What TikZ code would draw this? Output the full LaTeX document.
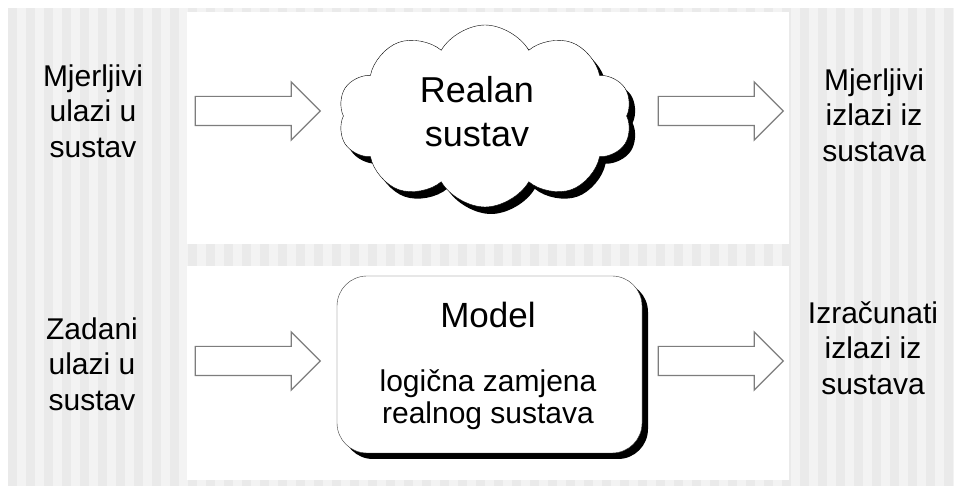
\documentclass[tikz,border=0pt]{standalone}
\usepackage{fontspec}
\setmainfont{Liberation Sans}
\usetikzlibrary{positioning,shapes,shapes.arrows,shapes.symbols,shadows}
\definecolor{stripelight}{RGB}{243,243,243}
\definecolor{stripedark}{RGB}{234,234,234}
\definecolor{arrowgray}{RGB}{125,125,125}
\tikzstyle{sidetext} = [align=center, font=\fontsize{30}{35.5}\selectfont]
\tikzstyle{panel} = [fill=white]
\tikzstyle{realsys} = [cloud, cloud puffs=10, cloud puff arc=120, draw=black, thin, fill=white,
    minimum width=294pt, minimum height=182pt,
    drop shadow={shadow xshift=6pt, shadow yshift=-7pt, fill=black, opacity=1}]
\tikzstyle{modelbox} = [draw=black!75, thin, rounded corners=30pt, fill=white,
    minimum width=305pt, minimum height=177pt,
    drop shadow={shadow xshift=6pt, shadow yshift=-6pt, fill=black, opacity=1}]
\tikzstyle{blockarrow} = [single arrow, draw=arrowgray, fill=white, line width=1.2pt,
    inner xsep=0pt, inner ysep=14pt, minimum height=125pt, minimum width=57pt,
    single arrow head extend=14.5pt, single arrow tip angle=90]

\begin{document}
\begin{tikzpicture}[x=1pt, y=-1pt]
      \useasboundingbox (0,0) rectangle (954,486);
      \fill[white] (0,0) rectangle (954,486);

      % Background
      \fill[stripelight] (8,8) rectangle (954,486);
      \foreach \i in {0,...,52}
        \fill[stripedark] ({8+18*\i},8) rectangle +(9,478);
      \fill[panel] (187,12) rectangle (789,244);
      \fill[panel] (187,266) rectangle (789,480);

      % Real system
      \node[sidetext] (in_real) at (93,111) {Mjerljivi\\ulazi u\\sustav};
      \node[realsys] (real) at (485,116) {};
      \node[align=center, font=\fontsize{36}{44}\selectfont] (real_text) at (477,112) {Realan\\sustav};
      \node[sidetext] (out_real) at (874,115) {Mjerljivi\\izlazi iz\\sustava};
      \node[blockarrow] (arr_in_real) at (250.5,111) {};
      \node[blockarrow] (arr_out_real) at (713.5,111) {};

      % Model
      \node[sidetext] (in_model) at (92,364) {Zadani\\ulazi u\\sustav};
      \node[modelbox] (model) at (489.5,364.5) {};
      \node[font=\fontsize{35}{40}\selectfont, anchor=base] (model_title) at (488,328) {Model};
      \node[align=center, font=\fontsize{30}{32}\selectfont] (model_text) at (488,400) {logična zamjena\\realnog sustava};
      \node[sidetext] (out_model) at (873,348) {Izračunati\\izlazi iz\\sustava};
      \node[blockarrow] (arr_in_model) at (250.5,361) {};
      \node[blockarrow] (arr_out_model) at (713.5,361) {};

    \end{tikzpicture}
\end{document}
